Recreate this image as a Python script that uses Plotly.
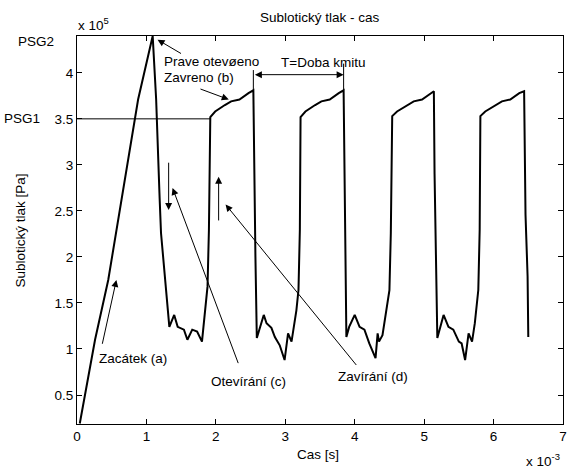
import plotly.graph_objects as go

# Time [s] in units of 1e-3, pressure [Pa] in units of 1e5
cas_ms = [0.04, 0.26, 0.45, 0.88, 1.09,
          1.14, 1.19, 1.21, 1.33,
          1.40, 1.45, 1.54, 1.59, 1.66, 1.73, 1.80,
          1.88, 1.90, 1.92,
          1.99, 2.13, 2.22, 2.34, 2.41, 2.47, 2.54,
          2.55, 2.57, 2.59,
          2.69, 2.73, 2.80, 2.85, 2.92, 2.99, 3.04, 3.09, 3.16, 3.19,
          3.21, 3.22,
          3.29, 3.43, 3.52, 3.64, 3.71, 3.77, 3.84,
          3.85, 3.87, 3.88,
          3.92, 4.00, 4.07, 4.14, 4.21, 4.28, 4.30, 4.33, 4.35, 4.40, 4.45, 4.50,
          4.52, 4.53, 4.54,
          4.61, 4.76, 4.85, 4.97, 5.04, 5.09, 5.14,
          5.15, 5.17, 5.19,
          5.28, 5.35, 5.42, 5.50, 5.54, 5.59, 5.64, 5.69, 5.73, 5.78,
          5.80, 5.81,
          5.88, 6.03, 6.12, 6.24, 6.31, 6.37, 6.44,
          6.45, 6.46, 6.49, 6.50]
tlak_e5 = [0.19, 1.10, 1.75, 3.71, 4.40,
           3.71, 2.64, 2.26, 1.24,
           1.37, 1.24, 1.21, 1.10, 1.21, 1.19, 1.08,
           1.68, 2.29, 3.52,
           3.58, 3.65, 3.69, 3.71, 3.75, 3.78, 3.81,
           2.90, 2.00, 1.12,
           1.37, 1.28, 1.23, 1.13, 1.04, 0.88, 1.17, 1.08, 1.42, 1.64,
           2.30, 3.52,
           3.58, 3.65, 3.69, 3.71, 3.75, 3.78, 3.81,
           2.91, 2.00, 1.13,
           1.24, 1.37, 1.24, 1.21, 1.06, 0.95, 0.90, 1.17, 1.08, 1.15, 1.39, 1.64,
           2.26, 2.89, 3.53,
           3.58, 3.65, 3.69, 3.71, 3.75, 3.78, 3.80,
           2.90, 2.00, 1.12,
           1.37, 1.24, 1.21, 1.08, 1.06, 0.88, 1.17, 1.08, 1.28, 1.64,
           2.30, 3.53,
           3.58, 3.65, 3.69, 3.71, 3.75, 3.78, 3.80,
           3.13, 2.46, 1.79, 1.13]

x_ticks = [0, 1, 2, 3, 4, 5, 6, 7]
y_ticks = [0.5, 1, 1.5, 2, 2.5, 3, 3.5, 4]
y_tick_labels = ["0.5", "1", "1.5", "2", "2.5", "3", "3.5", "4"]

PSG1 = 3.5
PSG2 = 4.40
T_start, T_end = 2.54, 3.84

FONT = "Liberation Sans, Arial, sans-serif"
FS = 13.5

fig = go.Figure()
fig.add_trace(go.Scatter(x=cas_ms, y=tlak_e5, mode="lines",
                         line=dict(color="black", width=2), hoverinfo="skip"))

ax_common = dict(showline=True, linecolor="black", linewidth=1, mirror="ticks",
                 ticks="inside", ticklen=5, tickcolor="black", showgrid=False,
                 zeroline=False, ticklabeloverflow="allow",
                 tickfont=dict(family=FONT, size=FS, color="black"))

fig.update_layout(
    width=570, height=467,
    margin=dict(l=77, r=3, t=36, b=43),
    paper_bgcolor="white", plot_bgcolor="white",
    showlegend=False,
    font=dict(family=FONT, size=FS, color="black"),
    xaxis=dict(range=[0, 7], tickvals=x_ticks, ticktext=[str(v) for v in x_ticks], **ax_common),
    yaxis=dict(range=[0.185, 4.40], tickvals=y_ticks, ticktext=y_tick_labels, **ax_common),
)

shapes = [
    dict(type="line", xref="x", yref="y", x0=0, x1=1.92, y0=PSG1, y1=PSG1,
         line=dict(color="black", width=1)),
    dict(type="line", xref="x", yref="y", x0=T_start, x1=T_start, y0=3.81, y1=4.03,
         line=dict(color="black", width=1)),
    dict(type="line", xref="x", yref="y", x0=T_end, x1=T_end, y0=3.81, y1=4.10,
         line=dict(color="black", width=1)),
]
fig.update_layout(shapes=shapes)

def arrow(x, y, ax, ay, both=False):
    d = dict(x=x, y=y, ax=ax, ay=ay, xref="x", yref="y", axref="x", ayref="y",
             text="", showarrow=True, arrowhead=2, arrowsize=1.4, arrowwidth=1,
             arrowcolor="black")
    if both:
        d.update(arrowside="end+start", startarrowhead=2, startarrowsize=1.4)
    return d

def label(x, y, text, xanchor="left", **kw):
    d = dict(x=x, y=y, xref="x", yref="y", text=text, showarrow=False,
             xanchor=xanchor, yanchor="middle",
             font=dict(family=FONT, size=FS, color="black"))
    d.update(kw)
    return d

def plabel(px, py, text, xanchor="center", yanchor="middle", angle=0):
    return dict(x=(px - 77) / 490, y=(424 - py) / 388, xref="paper", yref="paper",
                text=text, showarrow=False, xanchor=xanchor, yanchor=yanchor,
                textangle=angle, font=dict(family=FONT, size=FS, color="black"))

annotations = [
    plabel(322, 18, "Sublotický tlak - cas"),
    plabel(76, 24, "x 10<sup>5</sup>", xanchor="left"),
    plabel(528, 460, "x 10<sup>-3</sup>", xanchor="left"),
    plabel(320, 454, "Cas [s]"),
    plabel(20, 230, "Sublotický tlak [Pa]", angle=-90),
    plabel(36, 42, "PSG2", xanchor="center"),
    plabel(22, 118, "PSG1", xanchor="center"),
    label(1.23, 4.12, "Prave otevøeno"),
    label(1.23, 3.95, "Zavreno (b)"),
    label(3.54, 4.11, "T=Doba kmitu", xanchor="center"),
    label(0.286, 0.90, "Zacátek (a)"),
    label(1.90, 0.65, "Otevírání (c)"),
    label(3.73, 0.70, "Zavírání (d)"),
    arrow(1.16, 4.36, 1.52, 4.20),
    arrow(2.186, 3.71, 1.757, 3.83),
    arrow(T_end, 3.98, T_start, 3.98, both=True),
    arrow(1.32, 2.51, 1.32, 3.04),
    arrow(2.04, 2.87, 2.04, 2.38),
    arrow(0.567, 1.75, 0.36, 1.04),
    arrow(1.376, 2.75, 2.33, 0.83),
    arrow(2.14, 2.57, 4.04, 0.81),
]
fig.update_layout(annotations=annotations)

fig.write_html("out.html", config={"displayModeBar": False},
               post_script="document.body.style.margin='0';")
